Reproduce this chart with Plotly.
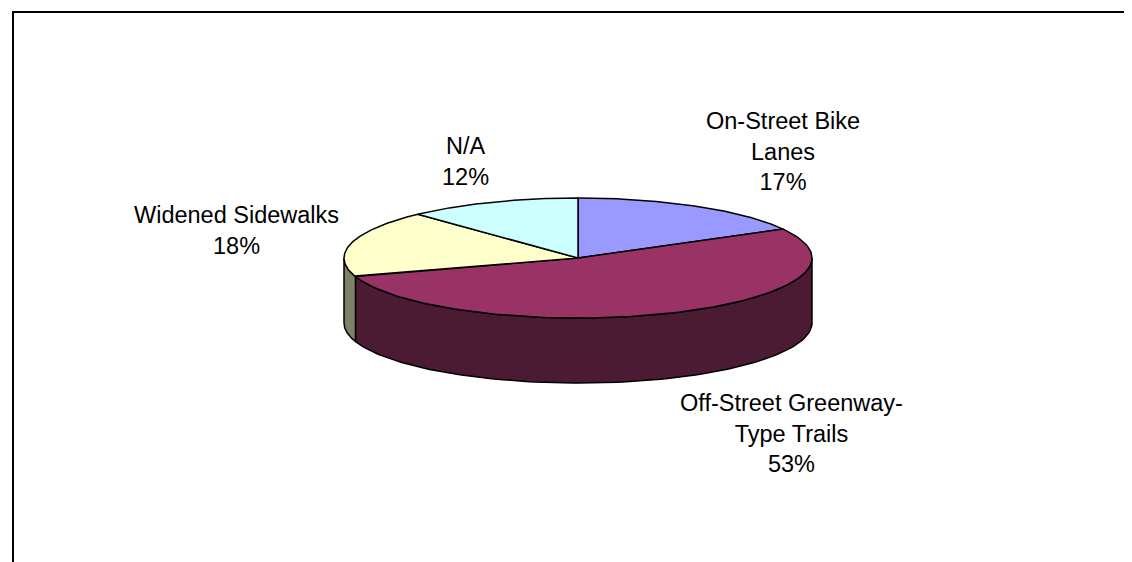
import numpy as np
import plotly.graph_objects as go

# ---- data ----
categories = ["On-Street Bike Lanes", "Off-Street Greenway-Type Trails", "Widened Sidewalks", "N/A"]
display_labels = ["On-Street Bike<br>Lanes", "Off-Street Greenway-<br>Type Trails", "Widened Sidewalks", "N/A"]
values = [17, 53, 18, 12]

# ---- style ----
top_colors = ["#9999FF", "#993366", "#FFFFCC", "#CCFFFF"]
side_colors = ["#4D4D80", "#4B1A33", "#808066", "#668080"]
label_pos = [(775, 143), (783, 425), (228, 222), (457, 153)]

W, H = 1132, 562
CX, CY, RX, RY, DEPTH = 570, 250, 234, 60, 65
FONT = dict(family="Liberation Sans, Arial, sans-serif", size=23.5, color="black")


def arc(a0, a1, dy=0.0, n=120):
    t = np.radians(np.linspace(a0, a1, n))
    return CX + RX * np.sin(t), CY - RY * np.cos(t) + dy


total = float(sum(values))
bounds = np.concatenate([[0], np.cumsum(values)]) / total * 360.0

fig = go.Figure()

# side walls (front half only: 90..270 degrees clockwise from top)
for i in range(len(values)):
    lo, hi = max(bounds[i], 90.0), min(bounds[i + 1], 270.0)
    if lo >= hi:
        continue
    xt, yt = arc(lo, hi)
    xb, yb = arc(hi, lo, DEPTH)
    xs = np.concatenate([xt, xb, xt[:1]])
    ys = np.concatenate([yt, yb, yt[:1]])
    fig.add_trace(go.Scatter(x=xs, y=ys, mode="lines", fill="toself",
                             fillcolor=side_colors[i],
                             line=dict(color="black", width=1.5),
                             hoverinfo="skip", showlegend=False))

# top faces
for i in range(len(values)):
    xt, yt = arc(bounds[i], bounds[i + 1])
    xs = np.concatenate([[CX], xt, [CX]])
    ys = np.concatenate([[CY], yt, [CY]])
    fig.add_trace(go.Scatter(x=xs, y=ys, mode="lines", fill="toself",
                             fillcolor=top_colors[i],
                             line=dict(color="black", width=1.5),
                             name=categories[i],
                             text=f"{categories[i]}: {values[i]}%",
                             hoverinfo="text", showlegend=False))

# labels
for i in range(len(values)):
    pct = round(values[i] / total * 100)
    fig.add_annotation(x=label_pos[i][0], y=label_pos[i][1],
                       text=f"{display_labels[i]}<br>{pct}%",
                       showarrow=False, xanchor="center", yanchor="middle",
                       align="center", font=FONT)

# chart border (top and left visible, rest outside the picture)
fig.add_shape(type="rect", x0=5, y0=4, x1=W + 20, y1=H + 20,
              line=dict(color="black", width=2), fillcolor="rgba(0,0,0,0)")

fig.update_layout(
    width=W, height=H,
    margin=dict(l=0, r=0, t=0, b=0),
    paper_bgcolor="white", plot_bgcolor="white",
    xaxis=dict(range=[0, W], visible=False, fixedrange=True),
    yaxis=dict(range=[H, 0], visible=False, fixedrange=True),
)

fig.write_html("out.html")
